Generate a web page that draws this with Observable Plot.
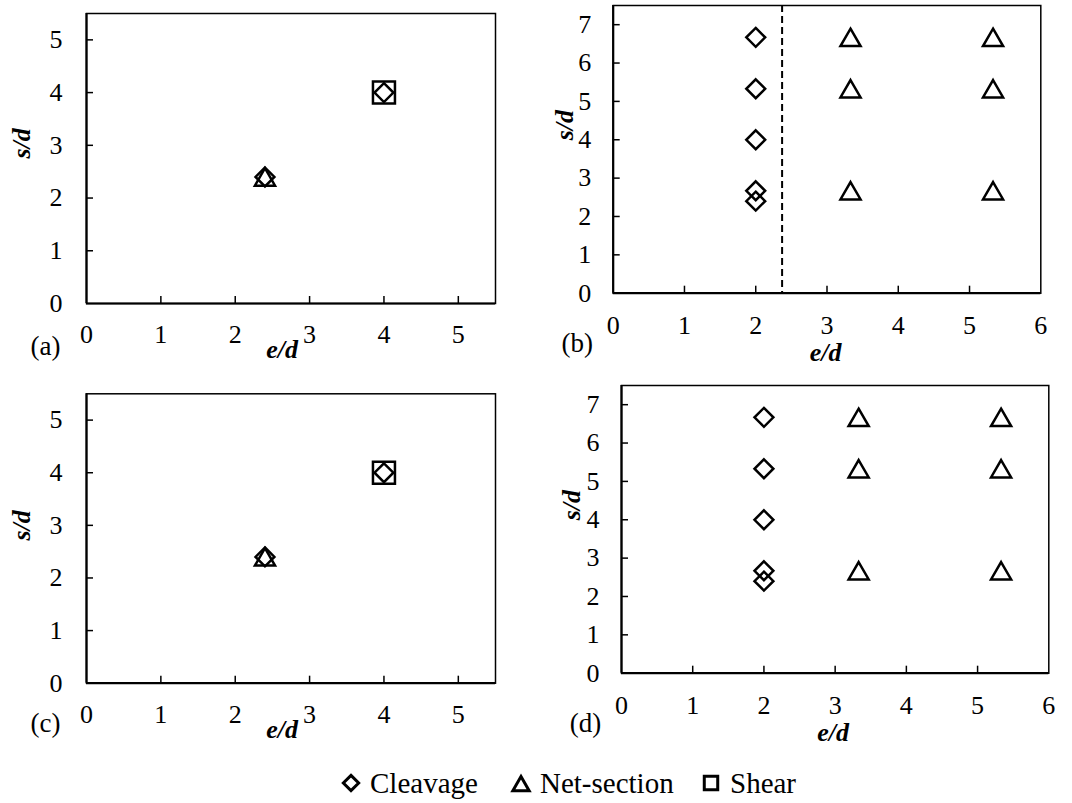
<!DOCTYPE html>
<html>
<head>
<meta charset="utf-8">
<script src="https://cdn.jsdelivr.net/npm/d3@7"></script>
<script src="https://cdn.jsdelivr.net/npm/@observablehq/plot@0.6"></script>
<style>
  html, body { margin: 0; padding: 0; background: white; }
  #fig { position: relative; width: 1072px; height: 803px; background: white; font-family: 'Times New Roman', 'Liberation Serif', Times, serif; color: black; }
  .panel { position: absolute; }
  .panel text { font-family: 'Times New Roman', 'Liberation Serif', Times, serif; }
  #legend { position: absolute; left: 0; top: 764px; width: 1072px; height: 38px; }
  .li { position: absolute; top: 0; height: 38px; display: flex; align-items: center; font-size: 29px; line-height: 38px; white-space: nowrap; font-family: 'Times New Roman', 'Liberation Serif', Times, serif; }
</style>
</head>
<body>
<div id="fig"><div id="legend"></div></div>
<script>
// ---------- data ----------
// Panel (a)
const aCleavageE = [2.4, 4];
const aCleavageS = [2.4, 4];
const aNetE = [2.4];
const aNetS = [2.4];
const aShearE = [4];
const aShearS = [4];
// Panel (b)
const bCleavageE = [2, 2, 2, 2, 2];
const bCleavageS = [6.67, 5.33, 4, 2.67, 2.4];
const bNetE = [3.33, 3.33, 3.33, 5.33, 5.33, 5.33];
const bNetS = [6.67, 5.33, 2.67, 6.67, 5.33, 2.67];
const bDashedE = [2.37];
// Panel (c)
const cCleavageE = [2.4, 4];
const cCleavageS = [2.4, 4];
const cNetE = [2.4];
const cNetS = [2.4];
const cShearE = [4];
const cShearS = [4];
// Panel (d)
const dCleavageE = [2, 2, 2, 2, 2];
const dCleavageS = [6.67, 5.33, 4, 2.67, 2.4];
const dNetE = [3.33, 3.33, 3.33, 5.33, 5.33, 5.33];
const dNetS = [6.67, 5.33, 2.67, 6.67, 5.33, 2.67];
// Ticks
const ticksAC_x = [0, 1, 2, 3, 4, 5];
const ticksAC_y = [0, 1, 2, 3, 4, 5];
const ticksBD_x = [0, 1, 2, 3, 4, 5, 6];
const ticksBD_y = [0, 1, 2, 3, 4, 5, 6, 7];
const legendLabels = ["Cleavage", "Net-section", "Shear"];
const panelLabels = ["(a)", "(b)", "(c)", "(d)"];
const xLabel = "e/d";
const yLabel = "s/d";

const FONT = "'Times New Roman', 'Liberation Serif', Times, serif";

function panel(cfg) {
  const W = 536, H = 380;
  const pw = W - cfg.ml - cfg.mr, ph = H - cfg.mt - cfg.mb;
  const marks = [];
  if (cfg.dashed) marks.push(Plot.ruleX(cfg.dashed, {x: d => d, stroke: "black", strokeWidth: 2, strokeDasharray: "7,4"}));
  // inner ticks
  marks.push(Plot.tickX(cfg.xt.filter(t => t > cfg.xd[0] && t < cfg.xd[1]), {x: d => d, insetTop: ph - 7, stroke: "black", strokeWidth: 1.5}));
  marks.push(Plot.tickY(cfg.yt.filter(t => t > cfg.yd[0] && t < cfg.yd[1]), {y: d => d, insetRight: pw - 7, stroke: "black", strokeWidth: 1.5}));
  marks.push(Plot.frame({stroke: "black", strokeWidth: 1.5}));
  marks.push(Plot.ruleY([cfg.yd[0]], {stroke: "black", strokeWidth: 2.2}));
  marks.push(Plot.ruleX([cfg.xd[0]], {stroke: "black", strokeWidth: 2.2}));
  // tick labels
  marks.push(Plot.text(cfg.xt, {x: d => d, frameAnchor: "bottom", dy: cfg.xtdy, text: d => String(d), fontSize: 26, fontFamily: FONT, textAnchor: "middle", lineAnchor: "middle"}));
  marks.push(Plot.text(cfg.yt, {y: d => d, frameAnchor: "left", dx: cfg.ytdx, text: d => String(d), fontSize: 26, fontFamily: FONT, textAnchor: "end", lineAnchor: "middle"}));
  // axis labels
  marks.push(Plot.text([xLabel], {frameAnchor: "bottom", dx: cfg.xl[0], dy: cfg.xl[1], text: d => d, fontSize: 26, fontFamily: FONT, fontWeight: "bold", fontStyle: "italic", lineAnchor: "middle"}));
  marks.push(Plot.text([yLabel], {frameAnchor: "left", dx: cfg.yl[0], dy: cfg.yl[1], text: d => d, fontSize: 26, fontFamily: FONT, fontWeight: "bold", fontStyle: "italic", rotate: -90, lineAnchor: "middle"}));
  marks.push(Plot.text([cfg.label], {frameAnchor: "bottom-left", dx: cfg.pl[0], dy: cfg.pl[1], text: d => d, fontSize: 27, fontFamily: FONT, textAnchor: "middle", lineAnchor: "middle"}));
  // data
  if (cfg.shear) marks.push(Plot.dot(cfg.shear[0], {x: cfg.shear[0], y: cfg.shear[1], symbol: "square2", r: 14, stroke: "black", strokeWidth: 2.5, fill: "none"}));
  if (cfg.net) marks.push(Plot.dot(cfg.net[0], {x: cfg.net[0], y: cfg.net[1], symbol: "triangle2", r: 9.6, dy: 2.9, stroke: "black", strokeWidth: 2.5, fill: "none"}));
  if (cfg.cleav) marks.push(Plot.dot(cfg.cleav[0], {x: cfg.cleav[0], y: cfg.cleav[1], symbol: "diamond2", r: 8.5, stroke: "black", strokeWidth: 2.5, fill: "none"}));
  const svg = Plot.plot({
    width: W, height: H,
    marginLeft: cfg.ml, marginRight: cfg.mr, marginTop: cfg.mt, marginBottom: cfg.mb,
    x: {domain: cfg.xd, axis: null},
    y: {domain: cfg.yd, axis: null},
    style: {fontFamily: FONT, fontSize: "26px", color: "black", background: "white", overflow: "visible"},
    marks
  });
  svg.classList.add("panel");
  svg.style.left = cfg.left + "px";
  svg.style.top = cfg.top + "px";
  return svg;
}

const fig = document.getElementById("fig");
fig.appendChild(panel({
  left: 0, top: 0, ml: 86, mr: 41, mt: 13, mb: 77,
  xd: [0, 5.5], yd: [0, 5.5], xt: ticksAC_x, yt: ticksAC_y,
  xtdy: 31, ytdx: -24, xl: [-9, 46], yl: [-65, 0], pl: [-41, 43], label: panelLabels[0],
  cleav: [aCleavageE, aCleavageS], net: [aNetE, aNetS], shear: [aShearE, aShearS]
}));
fig.appendChild(panel({
  left: 536, top: 0, ml: 76.7, mr: 31.7, mt: 5, mb: 87.3,
  xd: [0, 6], yd: [0, 7.5], xt: ticksBD_x, yt: ticksBD_y,
  xtdy: 32, ytdx: -22, xl: [-1.5, 59], yl: [-49, -9], pl: [-36, 50], label: panelLabels[1],
  cleav: [bCleavageE, bCleavageS], net: [bNetE, bNetS], dashed: bDashedE
}));
fig.appendChild(panel({
  left: 0, top: 380, ml: 86, mr: 41, mt: 13.3, mb: 77.3,
  xd: [0, 5.5], yd: [0, 5.5], xt: ticksAC_x, yt: ticksAC_y,
  xtdy: 31, ytdx: -24, xl: [-9, 46], yl: [-65, 2], pl: [-41, 40], label: panelLabels[2],
  cleav: [cCleavageE, cCleavageS], net: [cNetE, cNetS], shear: [cShearE, cShearS]
}));
fig.appendChild(panel({
  left: 536, top: 380, ml: 85, mr: 23.7, mt: 5, mb: 87.3,
  xd: [0, 6], yd: [0, 7.5], xt: ticksBD_x, yt: ticksBD_y,
  xtdy: 32, ytdx: -22, xl: [-2, 59], yl: [-50, -9], pl: [-36, 50.6], label: panelLabels[3],
  cleav: [dCleavageE, dCleavageS], net: [dNetE, dNetS]
}));

// ---------- legend ----------
const legend = document.getElementById("legend");
const legendSymbols = [d3.symbolDiamond2, d3.symbolTriangle2, d3.symbolSquare2];
const legendSizes = [150, 190, 230];
const legendLeft = [338, 508, 698];
legendLabels.forEach((lab, i) => {
  const item = document.createElement("div");
  item.className = "li";
  item.style.left = legendLeft[i] + "px";
  const svg = d3.create("svg").attr("width", 26).attr("height", 38).style("margin-right", "6px");
  svg.append("path")
    .attr("d", d3.symbol(legendSymbols[i], legendSizes[i])())
    .attr("transform", `translate(13,${i === 1 ? 22 : 19})`)
    .attr("fill", "none").attr("stroke", "black").attr("stroke-width", 3);
  item.appendChild(svg.node());
  const span = document.createElement("span");
  span.textContent = lab;
  item.appendChild(span);
  legend.appendChild(item);
});
</script>
</body>
</html>
